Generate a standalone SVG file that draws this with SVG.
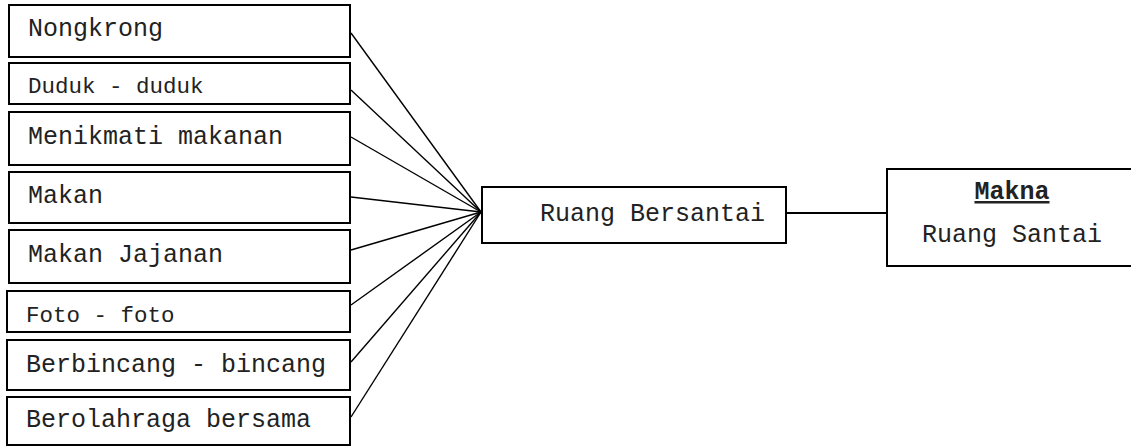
<svg xmlns="http://www.w3.org/2000/svg" width="1131" height="446" viewBox="0 0 1131 446">
<style>
.box{fill:#fff;stroke:#000;stroke-width:2}
.t{font-family:"Liberation Mono","Courier New",monospace;font-size:25px;fill:#222}
.s{font-size:22.5px}
.b{font-weight:bold;text-decoration:underline}
.c{stroke:#000;stroke-width:1.4;fill:none}
</style>
<rect width="1131" height="446" fill="#fff"/>
<g id="connectors">
<line class="c" x1="351" y1="33" x2="481" y2="212"/>
<line class="c" x1="351" y1="90" x2="481" y2="212"/>
<line class="c" x1="351" y1="137" x2="481" y2="212"/>
<line class="c" x1="351" y1="197" x2="481" y2="212"/>
<line class="c" x1="351" y1="250" x2="481" y2="212"/>
<line class="c" x1="351" y1="305" x2="481" y2="212"/>
<line class="c" x1="351" y1="362" x2="481" y2="212"/>
<line class="c" x1="351" y1="417" x2="481" y2="212"/>
<line class="c" style="stroke-width:2" x1="786" y1="213" x2="887" y2="213"/>
</g>
<g id="n1"><rect class="box" x="9" y="5" width="341" height="52"/><text class="t" x="28" y="36">Nongkrong</text></g>
<g id="n2"><rect class="box" x="9" y="63" width="341" height="41"/><text class="t s" x="28" y="93">Duduk - duduk</text></g>
<g id="n3"><rect class="box" x="9" y="112" width="341" height="53"/><text class="t" x="28" y="144">Menikmati makanan</text></g>
<g id="n4"><rect class="box" x="9" y="172" width="341" height="51"/><text class="t" x="28" y="203">Makan</text></g>
<g id="n5"><rect class="box" x="9" y="230" width="341" height="53"/><text class="t" x="28" y="262">Makan Jajanan</text></g>
<g id="n6"><rect class="box" x="7" y="291" width="343" height="41"/><text class="t s" x="26" y="322">Foto - foto</text></g>
<g id="n7"><rect class="box" x="7" y="340" width="343" height="50"/><text class="t" x="26" y="372">Berbincang - bincang</text></g>
<g id="n8"><rect class="box" x="7" y="397" width="343" height="48"/><text class="t" x="26" y="427">Berolahraga bersama</text></g>
<g id="ruang-bersantai"><rect class="box" x="482" y="187" width="304" height="56"/><text class="t" x="540" y="221">Ruang Bersantai</text></g>
<g id="makna"><rect class="box" x="887" y="169" width="250" height="97"/><text class="t b" x="1012" y="199" text-anchor="middle">Makna</text><text class="t" x="1012" y="242" text-anchor="middle">Ruang Santai</text></g>
</svg>
